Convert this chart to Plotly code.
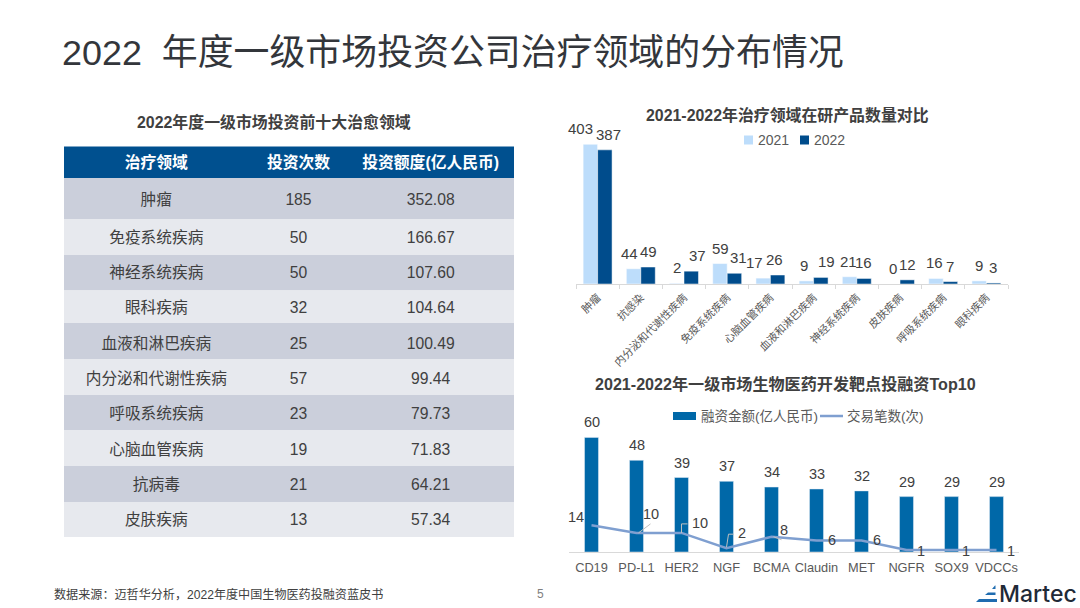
import plotly.graph_objects as go

FONT = "Liberation Sans, Noto Sans CJK SC"
DARK = "#404040"

# table
table_title = "2022年度一级市场投资前十大治愈领域"
table_header = ["治疗领域", "投资次数", "投资额度(亿人民币)"]
fields = ["肿瘤", "免疫系统疾病", "神经系统疾病", "眼科疾病", "血液和淋巴疾病",
          "内分泌和代谢性疾病", "呼吸系统疾病", "心脑血管疾病", "抗病毒", "皮肤疾病"]
invest_count = [185, 50, 50, 32, 25, 57, 23, 19, 21, 13]
invest_amount = ["352.08", "166.67", "107.60", "104.64", "100.49",
                 "99.44", "79.73", "71.83", "64.21", "57.34"]

# top right chart
pipeline_title = "2021-2022年治疗领域在研产品数量对比"
pipeline_fields = ["肿瘤", "抗感染", "内分泌和代谢性疾病", "免疫系统疾病", "心脑血管疾病",
                   "血液和淋巴疾病", "神经系统疾病", "皮肤疾病", "呼吸系统疾病", "眼科疾病"]
pipeline_2021 = [403, 44, 2, 59, 17, 9, 21, 0, 16, 9]
pipeline_2022 = [387, 49, 37, 31, 26, 19, 16, 12, 7, 3]

# bottom right chart
target_title = "2021-2022年一级市场生物医药开发靶点投融资Top10"
targets = ["CD19", "PD-L1", "HER2", "NGF", "BCMA", "Claudin", "MET", "NGFR", "SOX9", "VDCCs"]
target_amount = [60, 48, 39, 37, 34, 33, 32, 29, 29, 29]
target_deals = [14, 10, 10, 2, 8, 6, 6, 1, 1, 1]

# label nudges in pixels, the labels in the original are hand placed
shift_2021 = [-17, -11, -7, -7, -16, -10, -8, -7, -9, -7]
shift_2022 = [11, 8, 13, 11, 4, 13, 7, 7, 7, 7]
deal_shift_x = [-16, 14, 18, 15, 12, 15, 15, 14, 14, 14]
deal_shift_y = [8, 19, 10, 15, 7, 1, 1, -1, -1, -1]


def px(x):
    return x / 1080


def py(y):
    return 1 - y / 608


def text(s, x, y, size, color=DARK, anchor="center", weight=None, family=FONT):
    return dict(text=s, x=px(x), y=py(y), xref="paper", yref="paper", showarrow=False,
                xanchor=anchor, yanchor="middle",
                font=dict(family=family, size=size, color=color, weight=weight))


def rect(x0, x1, y0, y1, color):
    return dict(type="rect", xref="paper", yref="paper", x0=px(x0), x1=px(x1), y0=py(y0), y1=py(y1),
                fillcolor=color, line_width=0, layer="below")


C_HEAD, C_ROW1, C_ROW2 = "#00508F", "#CBCFDB", "#E7E9EE"
col_w = [185, 100, 165]
no_line = dict(width=0)
clear = "rgba(0,0,0,0)"

fig = go.Figure()

# go.Table keeps its text at the top of a cell and has one height for all rows,
# so the fills are shapes below (see row_edges) and the tables only hold the text
fig.add_trace(go.Table(
    domain=dict(x=[px(64), px(514)], y=[py(184), py(148.5)]),
    columnwidth=col_w,
    header=dict(values=table_header, height=29.5, fill_color=clear, align="center", line=no_line,
                font=dict(family=FONT, size=15.8, color="white", weight=600)),
    cells=dict(values=[[""], [""], [""]], height=6, fill_color=clear, line=no_line, font=dict(size=1)),
))
fig.add_trace(go.Table(
    domain=dict(x=[px(64), px(514)], y=[py(545), py(185)]),
    columnwidth=col_w,
    header=dict(values=[fields[0], invest_count[0], invest_amount[0]], height=38, fill_color=clear,
                align="center", line=no_line, font=dict(family=FONT, size=15.7, color=DARK)),
    cells=dict(values=[fields[1:], invest_count[1:], invest_amount[1:]], height=35.33,
               fill_color=clear, align="center", line=no_line,
               font=dict(family=FONT, size=15.7, color=DARK)),
))

C_2021, C_2022, C_AMOUNT, C_DEALS = "#BDDDFB", "#004C8C", "#0068A8", "#7F9FD0"
fig.add_trace(go.Bar(x=pipeline_fields, y=pipeline_2021, name="2021", marker_color=C_2021,
                     marker_line=dict(color="white", width=0.5), xaxis="x", yaxis="y"))
fig.add_trace(go.Bar(x=pipeline_fields, y=pipeline_2022, name="2022", marker_color=C_2022,
                     marker_line=dict(color="white", width=0.5), xaxis="x", yaxis="y"))
fig.add_trace(go.Bar(x=targets, y=target_amount, name="融资金额(亿人民币)", marker_color=C_AMOUNT,
                     width=0.31, xaxis="x2", yaxis="y2"))
fig.add_trace(go.Scatter(x=targets, y=target_deals, name="交易笔数(次)", mode="lines",
                         line=dict(color=C_DEALS, width=2.5), xaxis="x2", yaxis="y2"))

annotations = [
    text("2022  年度一级市场投资公司治疗领域的分布情况", 60, 53, 35.9, color="#33363B", anchor="left"),
    text(table_title, 274, 122, 15.9, weight=600),
    text(pipeline_title, 787, 115, 15.9, weight=600),
    text(target_title, 785, 384, 16.1, weight=600),
    text("数据来源：迈哲华分析，2022年度中国生物医药投融资蓝皮书", 52, 594, 12.1, anchor="left"),
    text("5", 540, 594, 12, color="#7F7F7F"),
    text("Martec", 997, 593.5, 23, color="#1F2A37", anchor="left", family="Inter", weight=500),
    # legends are drawn by hand, the wide swatch of the second one is not available in a plotly legend
    text("2021", 756, 140, 14, color="#595959", anchor="left"),
    text("2022", 812, 140, 14, color="#595959", anchor="left"),
    text("融资金额(亿人民币)", 699, 416, 13.5, color="#595959", anchor="left"),
    text("交易笔数(次)", 845, 416, 13.5, color="#595959", anchor="left"),
]

for i, name in enumerate(pipeline_fields):
    for values, shift in ((pipeline_2021, shift_2021), (pipeline_2022, shift_2022)):
        annotations.append(dict(x=i, y=values[i], xref="x", yref="y", text=str(values[i]),
                                showarrow=False, xanchor="center", yanchor="bottom",
                                xshift=shift[i], yshift=5,
                                font=dict(family=FONT, size=15, color=DARK)))

for i, name in enumerate(targets):
    annotations.append(dict(x=i, y=target_amount[i], xref="x2", yref="y2", text=str(target_amount[i]),
                            showarrow=False, xanchor="center", yanchor="bottom", yshift=5,
                            font=dict(family=FONT, size=14.5, color=DARK)))
    annotations.append(dict(x=i, y=target_deals[i], xref="x2", yref="y2", text=str(target_deals[i]),
                            showarrow=False, xanchor="center", yanchor="middle",
                            xshift=deal_shift_x[i], yshift=deal_shift_y[i],
                            font=dict(family=FONT, size=14.5, color=DARK)))

# leader lines of the moved labels, pixel offsets from the point
leaders = {1: "M 2 0 L 14 9", 2: "M 0 0 L 0 9 L 6 9", 3: "M 0 1 L 2 14 L 7 14", 4: "M 2 0 L 10 -3"}
shapes = [dict(type="path", path=p, xref="x2", yref="y2", xsizemode="pixel", ysizemode="pixel",
               xanchor=i, yanchor=target_deals[i], line=dict(color="#BFBFBF", width=1))
          for i, p in leaders.items()]

# table fills
row_edges = [178, 219, 255, 290.5, 323, 359, 395, 430, 466, 502, 537]
shapes.append(rect(64, 514, 146.5, 178, C_HEAD))
for n in range(10):
    shapes.append(rect(64, 514, row_edges[n], row_edges[n + 1], C_ROW2 if n % 2 else C_ROW1))

# legend swatches
shapes += [rect(744, 753, 135.5, 144.5, C_2021), rect(800, 809, 135.5, 144.5, C_2022),
           rect(673, 696, 412, 420, C_AMOUNT),
           dict(type="line", xref="paper", yref="paper", x0=px(820), x1=px(843), y0=py(416), y1=py(416),
                line=dict(color=C_DEALS, width=2.5))]

# logo stripes
for x0, x1, x2, y0, y1 in [(992, 995.5, 995.5, 589, 585.5), (985, 995.5, 995.5, 595, 592.5),
                           (976, 997, 997, 602, 599)]:
    shapes.append(dict(type="path", xref="paper", yref="paper", line_width=0, fillcolor="#1F6CB0",
                       path=f"M {px(x0)} {py(y0)} L {px(x1)} {py(y0)} L {px(x2)} {py(y1)} L {px(x0 + 3)} {py(y1)} Z"))

fig.update_layout(
    width=1080, height=608, margin=dict(l=0, r=0, t=0, b=0),
    paper_bgcolor="white", plot_bgcolor="white",
    font=dict(family=FONT, color=DARK), showlegend=False,
    barmode="group", bargap=0.33, bargroupgap=0,
    annotations=annotations, shapes=shapes,
    xaxis=dict(domain=[px(576), px(1008)], anchor="y", type="category", range=[-0.5, 9.5],
               tickangle=-45, tickson="boundaries", ticklabelstandoff=2,
               ticks="outside", ticklen=4, tickcolor="#D9D9D9", showline=True, linecolor="#D9D9D9",
               showgrid=False, tickfont=dict(size=10.8, color="#595959", family=FONT)),
    yaxis=dict(domain=[py(284), py(128)], anchor="x", range=[0, 450], visible=False),
    xaxis2=dict(domain=[px(569), px(1019)], anchor="y2", type="category", range=[-0.5, 9.5], showline=True,
                linecolor="#D9D9D9", showgrid=False, ticks="", ticklabelstandoff=4,
                tickfont=dict(size=12.8, color="#595959", family=FONT)),
    yaxis2=dict(domain=[py(552), py(418.3)], anchor="x2", range=[0, 70], visible=False),
)

# the page has a default body margin of 8px
fig.write_html("out.html", config=dict(displayModeBar=False),
               post_script="document.body.style.margin = '0';")
